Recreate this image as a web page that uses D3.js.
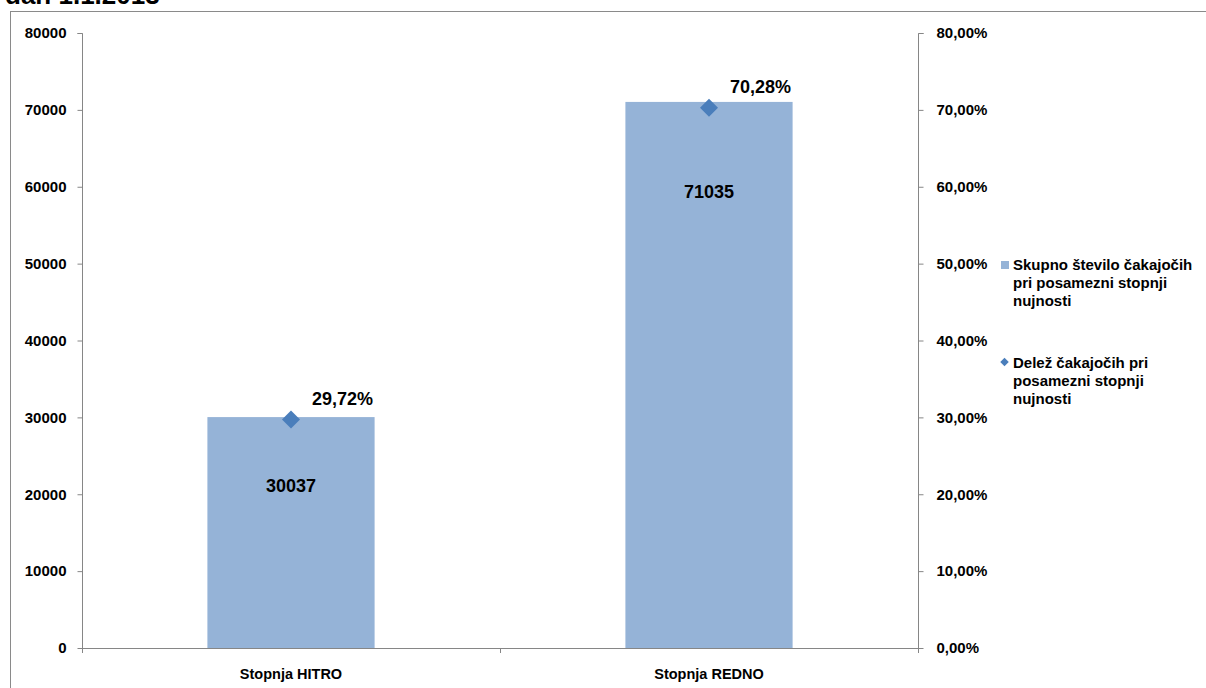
<!DOCTYPE html>
<html><head><meta charset="utf-8">
<script src="https://cdn.jsdelivr.net/npm/d3@7"></script>
<style>
html,body{margin:0;padding:0;background:#fff;}
svg{display:block;}
text{font-family:"Liberation Sans",Arial,sans-serif;font-weight:bold;fill:#000;}
</style></head>
<body>
<svg id="chart" width="1206" height="688"></svg>
<script>
const categories = ["Stopnja HITRO", "Stopnja REDNO"];
const counts = [30037, 71035];
const shares = [29.72, 70.28];
const leftTicks = [0, 10000, 20000, 30000, 40000, 50000, 60000, 70000, 80000];
const rightTicks = [0, 10, 20, 30, 40, 50, 60, 70, 80];
const legendItems = [
  ["Skupno število čakajočih", "pri posamezni stopnji", "nujnosti"],
  ["Delež čakajočih pri", "posamezni stopnji", "nujnosti"]
];
const titleText = "dan 1.1.2013";

const svg = d3.select("#chart");
const barColor = "#95B3D7", markColor = "#4A7EBB", axisColor = "#868686";
const L = 82, R = 918, T = 33, B = 648;

// title (cut off at top) and frame
svg.append("text").attr("x", 5).attr("y", 4).style("font-size", "26px").text(titleText);
svg.append("rect").attr("x", 10.5).attr("y", 11.5).attr("width", 1210).attr("height", 700)
  .attr("fill", "none").attr("stroke", "#8a8a8a").attr("stroke-width", 1);

const x = d3.scaleBand().domain(categories).range([L, R]).paddingInner(0).paddingOuter(0);
const y = d3.scaleLinear().domain([0, 80000]).range([B, T]);
const y2 = d3.scaleLinear().domain([0, 80]).range([B, T]);
const fmtPct = v => d3.format(".2f")(v).replace(".", ",") + "%";

// bars
const bw = x.bandwidth() * 0.4;
svg.append("g").selectAll("rect").data(counts).join("rect")
  .attr("x", (d, i) => x(categories[i]) + (x.bandwidth() - bw) / 2)
  .attr("y", d => y(d)).attr("width", bw).attr("height", d => B - y(d))
  .attr("fill", barColor);

// left axis
const gl = svg.append("g").attr("transform", `translate(${L + 0.5},0)`)
  .call(d3.axisLeft(y).tickValues(leftTicks).tickSize(5).tickPadding(11).tickFormat(d3.format("d")));
gl.select(".domain").attr("stroke", axisColor).attr("d", `M-5,${T + 0.5}H0V${B + 5}`);
gl.selectAll(".tick line").attr("stroke", axisColor);
gl.selectAll(".tick text").style("font-size", "15px").style("font-family", "Liberation Sans, Arial").attr("font-weight", "bold").attr("fill", "#000");

// right axis
const gr = svg.append("g").attr("transform", `translate(${R + 0.5},0)`)
  .call(d3.axisRight(y2).tickValues(rightTicks).tickSize(5).tickPadding(13).tickFormat(v => fmtPct(v)));
gr.select(".domain").attr("stroke", axisColor).attr("d", `M5,${T + 0.5}H0V${B + 5}`);
gr.selectAll(".tick line").attr("stroke", axisColor);
gr.selectAll(".tick text").style("font-size", "15px").style("font-family", "Liberation Sans, Arial").attr("font-weight", "bold").attr("fill", "#000");

// bottom axis
const gb = svg.append("g").attr("transform", `translate(0,${B + 0.5})`)
  .call(d3.axisBottom(x).tickSize(0).tickPadding(20));
gb.select(".domain").attr("stroke", axisColor).attr("d", `M${L},0H${R}`);
gb.selectAll(".tick text").style("font-size", "14.5px").style("font-family", "Liberation Sans, Arial").attr("font-weight", "bold").attr("fill", "#000");
svg.append("line").attr("x1", (L + R) / 2 + 0.5).attr("x2", (L + R) / 2 + 0.5)
  .attr("y1", B).attr("y2", B + 5).attr("stroke", axisColor);

// value labels inside bars
const insideOffsets = [75, 96];
svg.append("g").selectAll("text").data(counts).join("text")
  .attr("x", (d, i) => x(categories[i]) + x.bandwidth() / 2)
  .attr("y", (d, i) => y(d) + insideOffsets[i])
  .attr("text-anchor", "middle").style("font-size", "18px").text(d => d);

// diamond markers
const diamond = d3.symbol(d3.symbolSquare, 162);
svg.append("g").selectAll("path").data(shares).join("path")
  .attr("d", diamond)
  .attr("transform", (d, i) => `translate(${x(categories[i]) + x.bandwidth() / 2},${y2(d)}) rotate(45)`)
  .attr("fill", markColor);
svg.append("g").selectAll("text").data(shares).join("text")
  .attr("x", (d, i) => x(categories[i]) + x.bandwidth() / 2 + 21)
  .attr("y", d => y2(d) - 15)
  .style("font-size", "18px").text(d => fmtPct(d));

// legend
const lg = svg.append("g");
lg.append("rect").attr("x", 1001).attr("y", 261).attr("width", 8).attr("height", 8).attr("fill", barColor);
lg.append("path").attr("d", d3.symbol(d3.symbolSquare, 36)).attr("transform", "translate(1004.5,362) rotate(45)").attr("fill", markColor);
const legendY = [270, 368];
legendItems.forEach((lines, k) => {
  const t = lg.append("text").attr("x", 1013).attr("y", legendY[k]).style("font-size", "15px");
  lines.forEach((s, j) => t.append("tspan").attr("x", 1013).attr("dy", j === 0 ? 0 : 18).text(s));
});
</script>
</body></html>
